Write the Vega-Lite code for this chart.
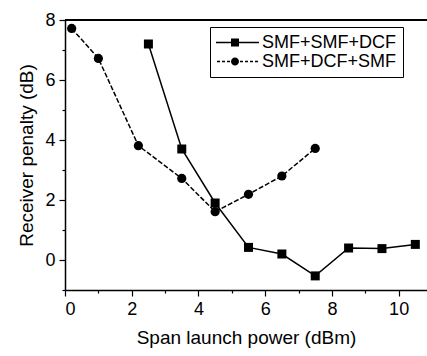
{
  "$schema": "https://vega.github.io/schema/vega-lite/v6.json",
  "width": 362,
  "height": 270,
  "autosize": "none",
  "padding": {"left": 65, "top": 20, "right": 0, "bottom": 66},
  "background": "white",
  "config": {
    "font": "Liberation Sans",
    "view": {"stroke": null},
    "axis": {"domainColor": "black", "tickColor": "black", "labelColor": "black", "titleColor": "black", "labelFontSize": 18, "titleFontSize": 19, "titleFontWeight": "normal", "labelFont": "Liberation Sans", "titleFont": "Liberation Sans", "grid": false, "domainWidth": 1.5, "tickWidth": 1.2}
  },
  "data": {
    "values": [
      {"series": "SMF+SMF+DCF", "x": 2.5, "y": 7.2},
      {"series": "SMF+SMF+DCF", "x": 3.5, "y": 3.7},
      {"series": "SMF+SMF+DCF", "x": 4.5, "y": 1.9},
      {"series": "SMF+SMF+DCF", "x": 5.5, "y": 0.42},
      {"series": "SMF+SMF+DCF", "x": 6.5, "y": 0.2},
      {"series": "SMF+SMF+DCF", "x": 7.5, "y": -0.53},
      {"series": "SMF+SMF+DCF", "x": 8.5, "y": 0.4},
      {"series": "SMF+SMF+DCF", "x": 9.5, "y": 0.38},
      {"series": "SMF+SMF+DCF", "x": 10.5, "y": 0.52},
      {"series": "SMF+DCF+SMF", "x": 0.2, "y": 7.72},
      {"series": "SMF+DCF+SMF", "x": 1.0, "y": 6.72},
      {"series": "SMF+DCF+SMF", "x": 2.2, "y": 3.81},
      {"series": "SMF+DCF+SMF", "x": 3.5, "y": 2.72},
      {"series": "SMF+DCF+SMF", "x": 4.5, "y": 1.61},
      {"series": "SMF+DCF+SMF", "x": 5.5, "y": 2.19},
      {"series": "SMF+DCF+SMF", "x": 6.5, "y": 2.8},
      {"series": "SMF+DCF+SMF", "x": 7.5, "y": 3.72}
    ]
  },
  "encoding": {
    "x": {
      "field": "x", "type": "quantitative",
      "scale": {"domain": [0, 10.85], "nice": false, "zero": false},
      "axis": {
        "title": "Span launch power (dBm)",
        "values": [0, 1, 2, 3, 4, 5, 6, 7, 8, 9, 10],
        "labelExpr": "datum.value % 2 === 0 ? datum.label : ''",
        "tickSize": {"condition": {"test": "datum.value % 2 !== 0", "value": 3}, "value": 6},
        "labelPadding": 4,
        "titlePadding": 10
      }
    },
    "y": {
      "field": "y", "type": "quantitative",
      "scale": {"domain": [-1, 8], "nice": false, "zero": false},
      "axis": {
        "title": "Receiver penalty (dB)",
        "values": [-1, 0, 1, 2, 3, 4, 5, 6, 7, 8],
        "labelExpr": "datum.value % 2 === 0 && datum.value >= 0 ? datum.label : ''",
        "tickSize": {"condition": {"test": "datum.value % 2 !== 0", "value": 3}, "value": 6},
        "labelPadding": 4,
        "titlePadding": 8
      }
    }
  },
  "layer": [
    {
      "mark": {"type": "rule", "color": "black", "strokeWidth": 1.5},
      "encoding": {
        "y": {"datum": 8},
        "x": {"datum": 0},
        "x2": {"datum": 10.85}
      }
    },
    {
      "transform": [{"filter": "datum.series === 'SMF+SMF+DCF'"}],
      "mark": {"type": "line", "color": "black", "strokeWidth": 1.5}
    },
    {
      "transform": [{"filter": "datum.series === 'SMF+DCF+SMF'"}],
      "mark": {"type": "line", "color": "black", "strokeWidth": 1.5, "strokeDash": [5, 2]}
    },
    {
      "transform": [{"filter": "datum.series === 'SMF+SMF+DCF'"}],
      "mark": {"type": "point", "shape": "square", "filled": true, "color": "black", "opacity": 1, "size": 81}
    },
    {
      "transform": [{"filter": "datum.series === 'SMF+DCF+SMF'"}],
      "mark": {"type": "point", "shape": "circle", "filled": true, "color": "black", "opacity": 1, "size": 85}
    },
    {
      "mark": {"type": "point", "filled": true, "color": "black"},
      "encoding": {
        "opacity": {"value": 0},
        "shape": {
          "field": "series", "type": "nominal",
          "scale": {
            "domain": ["SMF+SMF+DCF", "SMF+DCF+SMF"],
            "range": [
              "M-1.244,-0.032H1.049V0.032H-1.244ZM-0.317,-0.195H0.073V0.195H-0.317Z",
              "M-1.244,-0.032H-1.098V0.032H-1.244ZM-1.0,-0.032H-0.854V0.032H-1.0ZM-0.756,-0.032H-0.61V0.032H-0.756ZM-0.512,-0.032H-0.366V0.032H-0.512ZM0.122,-0.032H0.268V0.032H0.122ZM0.366,-0.032H0.512V0.032H0.366ZM0.61,-0.032H0.756V0.032H0.61ZM0.854,-0.032H1.0V0.032H0.854ZM0.073,0A0.195,0.195,0,1,1,-0.317,0A0.195,0.195,0,1,1,0.073,0Z"
            ]
          },
          "legend": {
            "title": null,
            "orient": "none",
            "legendX": 145,
            "legendY": 7,
            "symbolSize": 1681,
            "clipHeight": 19,
            "symbolFillColor": "black",
            "symbolOpacity": 1,
            "labelFontSize": 18,
            "labelColor": "black",
            "labelLimit": 300,
            "labelOffset": 3,
            "labelExpr": "datum.label + '\u00a0\u00a0'",
            "rowPadding": 0,
            "padding": 6,
            "strokeColor": "black",
            "fillColor": "white"
          }
        }
      }
    }
  ]
}
